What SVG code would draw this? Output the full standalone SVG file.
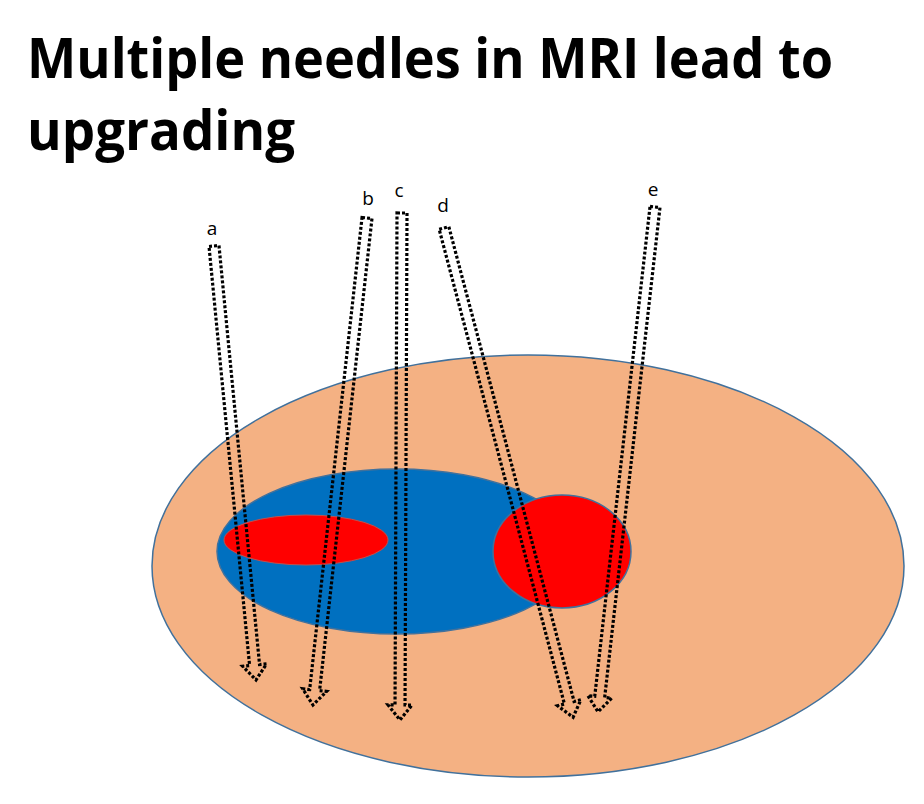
<svg xmlns="http://www.w3.org/2000/svg" width="924" height="804" viewBox="0 0 924 804">
<style>
.title{font-family:"Open Sans","Noto Sans","Liberation Sans",sans-serif;font-weight:700;font-size:56px;fill:#000}
.lbl{font-family:"Open Sans","Liberation Sans",sans-serif;font-size:19px;fill:#000;text-anchor:middle}
.needle{fill:none;stroke:#000;stroke-width:3.2;stroke-dasharray:3 2}
.shape{stroke:#41719c;stroke-width:1.5}
</style>
<rect width="924" height="804" fill="#fff"/>
<text class="title" x="27" y="78" textLength="806" lengthAdjust="spacingAndGlyphs">Multiple needles in MRI lead to</text>
<text class="title" x="27" y="150" textLength="268" lengthAdjust="spacingAndGlyphs">upgrading</text>
<g id="prostate"><ellipse class="shape" cx="528" cy="566" rx="376" ry="211" fill="#f4b183"/></g>
<g id="zone"><ellipse class="shape" cx="397" cy="551.5" rx="180" ry="82.5" fill="#0070c0"/></g>
<g id="lesion1"><ellipse cx="306" cy="540" rx="82" ry="25" fill="#ff0000" stroke="#c0504d" stroke-width="1"/></g>
<g id="lesion2"><ellipse class="shape" cx="562" cy="551.5" rx="69" ry="56.5" fill="#ff0000"/></g>
<g id="needles">
<g id="needle-a" transform="translate(214,246) rotate(-5.53)"><path class="needle" d="M-5,0 L5,0 L5,421 L12,421 L0,436 L-12,421 L-5,421 Z"/></g>
<g id="needle-b" transform="translate(367,218) rotate(6.33)"><path class="needle" d="M-5,0 L5,0 L5,475 L12,475 L0,490 L-12,475 L-5,475 Z"/></g>
<g id="needle-c" transform="translate(402,213) rotate(0.23)"><path class="needle" d="M-5,0 L5,0 L5,492 L12,492 L0,507 L-12,492 L-5,492 Z"/></g>
<g id="needle-d" transform="translate(444,228) rotate(-14.78)"><path class="needle" d="M-5,0 L5,0 L5,491 L12,491 L0,506 L-12,491 L-5,491 Z"/></g>
<g id="needle-e" transform="translate(655,207) rotate(6.44)"><path class="needle" d="M-5,0 L5,0 L5,493 L12,493 L0,508 L-12,493 L-5,493 Z"/></g>
</g>
<g id="labels">
<text class="lbl" x="212" y="235">a</text>
<text class="lbl" x="368" y="205">b</text>
<text class="lbl" x="399" y="197">c</text>
<text class="lbl" x="443" y="212">d</text>
<text class="lbl" x="653" y="196">e</text>
</g>
</svg>
